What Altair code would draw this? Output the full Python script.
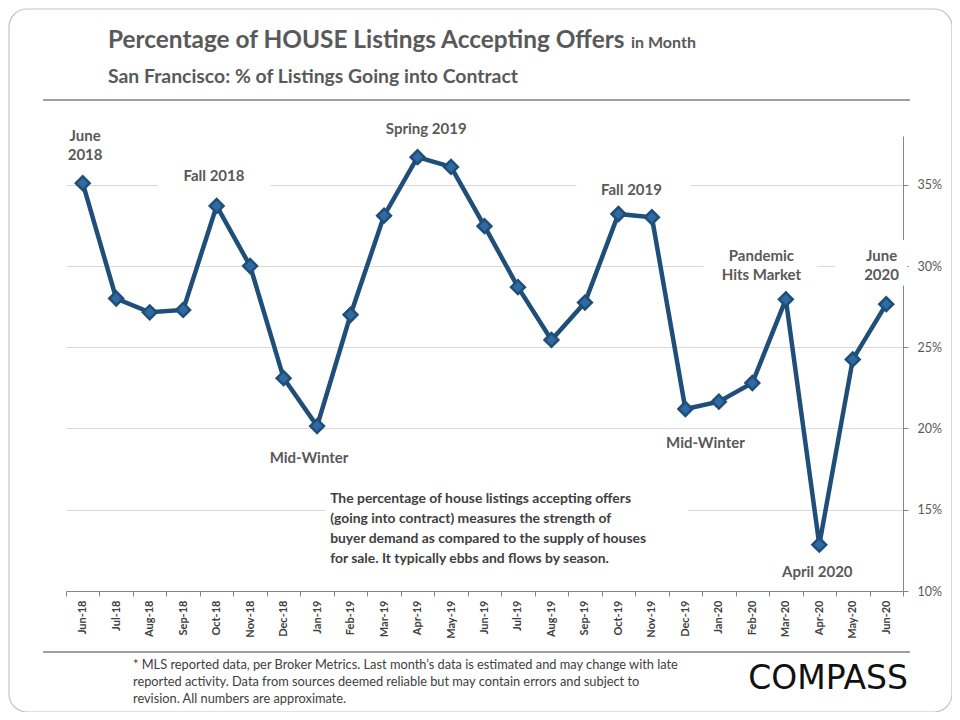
import altair as alt
import pandas as pd

months = ["Jun-18", "Jul-18", "Aug-18", "Sep-18", "Oct-18", "Nov-18", "Dec-18",
          "Jan-19", "Feb-19", "Mar-19", "Apr-19", "May-19", "Jun-19", "Jul-19",
          "Aug-19", "Sep-19", "Oct-19", "Nov-19", "Dec-19", "Jan-20", "Feb-20",
          "Mar-20", "Apr-20", "May-20", "Jun-20"]
pct = [35.1, 28.0, 27.15, 27.3, 33.7, 30.0, 23.1, 20.15, 27.0, 33.1, 36.7, 36.1,
       32.45, 28.7, 25.45, 27.75, 33.2, 33.0, 21.2, 21.65, 22.8, 27.95, 12.85,
       24.25, 27.65]
y_ticks = [10, 15, 20, 25, 30, 35]

ann_text = ["June", "2018", "Fall 2018", "Spring 2019", "Fall 2019", "Mid-Winter",
            "Mid-Winter", "Pandemic", "Hits Market", "June", "2020", "April 2020"]
ann_x = [0.07, 0.07, 3.92, 10.26, 16.39, 6.76, 18.6, 20.27, 20.27, 23.86, 23.86, 21.94]
ann_y = [38.0, 36.84, 35.55, 38.45, 34.69, 18.16, 19.08, 30.64, 29.47, 30.64, 29.47, 11.15]

note_lines = ["The percentage of house listings accepting offers",
              "(going into contract) measures the strength of",
              "buyer demand as compared to the supply of houses",
              "for sale. It typically ebbs and flows by season."]
note_x = [7.39, 7.39, 7.39, 7.39]
note_y = [15.64, 14.41, 13.19, 11.95]

gap_x = [2.25, 14.74, 18.54, 22.48, 7.24]
gap_x2 = [5.6, 18.15, 21.94, 24.62, 18.09]
gap_y = [34.4, 34.3, 29.3, 28.8, 14.6]
gap_y2 = [36.0, 36.0, 30.9, 31.6, 15.4]

title_main = "Percentage of HOUSE Listings Accepting Offers"
title_suffix = "in Month"
subtitle = "San Francisco: % of Listings Going into Contract"
footnote = ["* MLS reported data, per Broker Metrics. Last month\u2019s data is estimated and may change with late",
            "reported activity. Data from sources deemed reliable but may contain errors and subject to",
            "revision. All numbers are approximate."]
logo = "COMPASS"

FONT = "Lato"
GRAY = "#595959"
BLUE = "#1f4e79"

df = pd.DataFrame({"i": list(range(len(months))), "month": months, "pct": pct})
ann_df = pd.DataFrame({"x": ann_x, "y": ann_y, "t": ann_text})
note_df = pd.DataFrame({"x": note_x, "y": note_y, "t": note_lines})
gap_df = pd.DataFrame({"x": gap_x, "x2": gap_x2, "y": gap_y, "y2": gap_y2})

xs = alt.Scale(domain=[-0.5, 24.5], nice=False, zero=False)
ys = alt.Scale(domain=[10, 38], nice=False, zero=False)

label_expr = "[" + ",".join("'" + m + "'" for m in months) + "][datum.value]"

one = pd.DataFrame({"k": [0]})

y_axis = alt.Axis(orient="right", values=y_ticks, labelExpr="datum.value + '%'",
                  grid=True, gridColor="#d9d9d9", domainColor="#868686",
                  tickColor="#868686", tickSize=5, labelPadding=9,
                  labelFont=FONT, labelFontSize=12.5, labelColor=GRAY)

frame = alt.Chart(one).mark_rect(fillOpacity=0, stroke="#c4c4c4", strokeWidth=1.2,
                                 cornerRadius=18).encode(
    x=alt.value(-57), x2=alt.value(886), y=alt.value(-127), y2=alt.value(576))

gaps = alt.Chart(gap_df).mark_rect(fill="white").encode(
    x=alt.X("x:Q", scale=xs, title=None,
            axis=alt.Axis(orient="bottom", values=[k - 0.5 for k in range(26)],
                          labels=False, ticks=True, tickSize=5, tickColor="#868686",
                          domainColor="#868686", grid=False)),
    x2="x2:Q",
    y=alt.Y("y:Q", scale=ys, title=None, axis=y_axis),
    y2="y2:Q")

line = alt.Chart(df).mark_line(color=BLUE, strokeWidth=4.5).encode(
    x=alt.X("i:Q", scale=xs, title=None,
            axis=alt.Axis(orient="bottom", values=list(range(25)), labelExpr=label_expr,
                          ticks=False, tickSize=0, domain=False, grid=False,
                          labelAngle=-90, labelFont=FONT, labelFontWeight="bold",
                          labelFontSize=11, labelColor="#404040", labelPadding=9)),
    y=alt.Y("pct:Q", scale=ys, title=None, axis=y_axis))

points = alt.Chart(df).mark_point(shape="diamond", filled=True, size=190,
                                  fill="#2f6aa3", stroke=BLUE, strokeWidth=2.5,
                                  opacity=1).encode(
    x=alt.X("i:Q", scale=xs, axis=None),
    y=alt.Y("pct:Q", scale=ys, axis=y_axis))

ann = alt.Chart(ann_df).mark_text(font=FONT, fontWeight="bold", fontSize=15,
                                  color=GRAY, align="center", baseline="middle").encode(
    x=alt.X("x:Q", scale=xs, axis=None),
    y=alt.Y("y:Q", scale=ys, axis=y_axis),
    text="t:N")

note = alt.Chart(note_df).mark_text(font=FONT, fontWeight="bold", fontSize=13.9,
                                    color="#404040", align="left", baseline="middle").encode(
    x=alt.X("x:Q", scale=xs, axis=None),
    y=alt.Y("y:Q", scale=ys, axis=y_axis),
    text="t:N")

t1 = alt.Chart(pd.DataFrame({"t": [title_main]})).mark_text(
    font=FONT, fontWeight="bold", fontSize=24.4, color=GRAY, align="left",
    baseline="alphabetic").encode(x=alt.value(42), y=alt.value(-88), text="t:N")
t2 = alt.Chart(pd.DataFrame({"t": [title_suffix]})).mark_text(
    font=FONT, fontWeight="bold", fontSize=16, color=GRAY, align="left",
    baseline="alphabetic").encode(x=alt.value(565), y=alt.value(-88), text="t:N")
t3 = alt.Chart(pd.DataFrame({"t": [subtitle]})).mark_text(
    font=FONT, fontWeight="bold", fontSize=19.4, color=GRAY, align="left",
    baseline="alphabetic").encode(x=alt.value(42), y=alt.value(-53), text="t:N")

rule_top = alt.Chart(one).mark_rule(color="#808080", strokeWidth=1.3).encode(
    x=alt.value(-23), x2=alt.value(844), y=alt.value(-36))
rule_bot = alt.Chart(one).mark_rule(color="#808080", strokeWidth=1.3).encode(
    x=alt.value(-23), x2=alt.value(844), y=alt.value(516))

foot_layers = []
for k, line_txt in enumerate(footnote):
    foot_layers.append(
        alt.Chart(pd.DataFrame({"t": [line_txt]})).mark_text(
            font=FONT, fontSize=12.8, color="#404040", align="left",
            baseline="alphabetic").encode(x=alt.value(67), y=alt.value(533 + 17 * k),
                                          text="t:N"))

logo_mark = alt.Chart(pd.DataFrame({"t": [logo]})).mark_text(
    font="DejaVu Sans", fontSize=33, color="#111111", align="right",
    baseline="alphabetic").encode(x=alt.value(842), y=alt.value(553), text="t:N")

chart = alt.layer(frame, gaps, line, points, ann, note, t1, t2, t3, rule_top, rule_bot,
                  *foot_layers, logo_mark).resolve_axis(x="independent").properties(
    width=837, height=455,
    padding={"left": 58, "top": 128, "right": 49, "bottom": 121},
    autosize=alt.AutoSizeParams(type="none"),
    background="white",
).configure_view(strokeWidth=0)

chart.save("out.html", embed_options={"renderer": "svg", "actions": False})
